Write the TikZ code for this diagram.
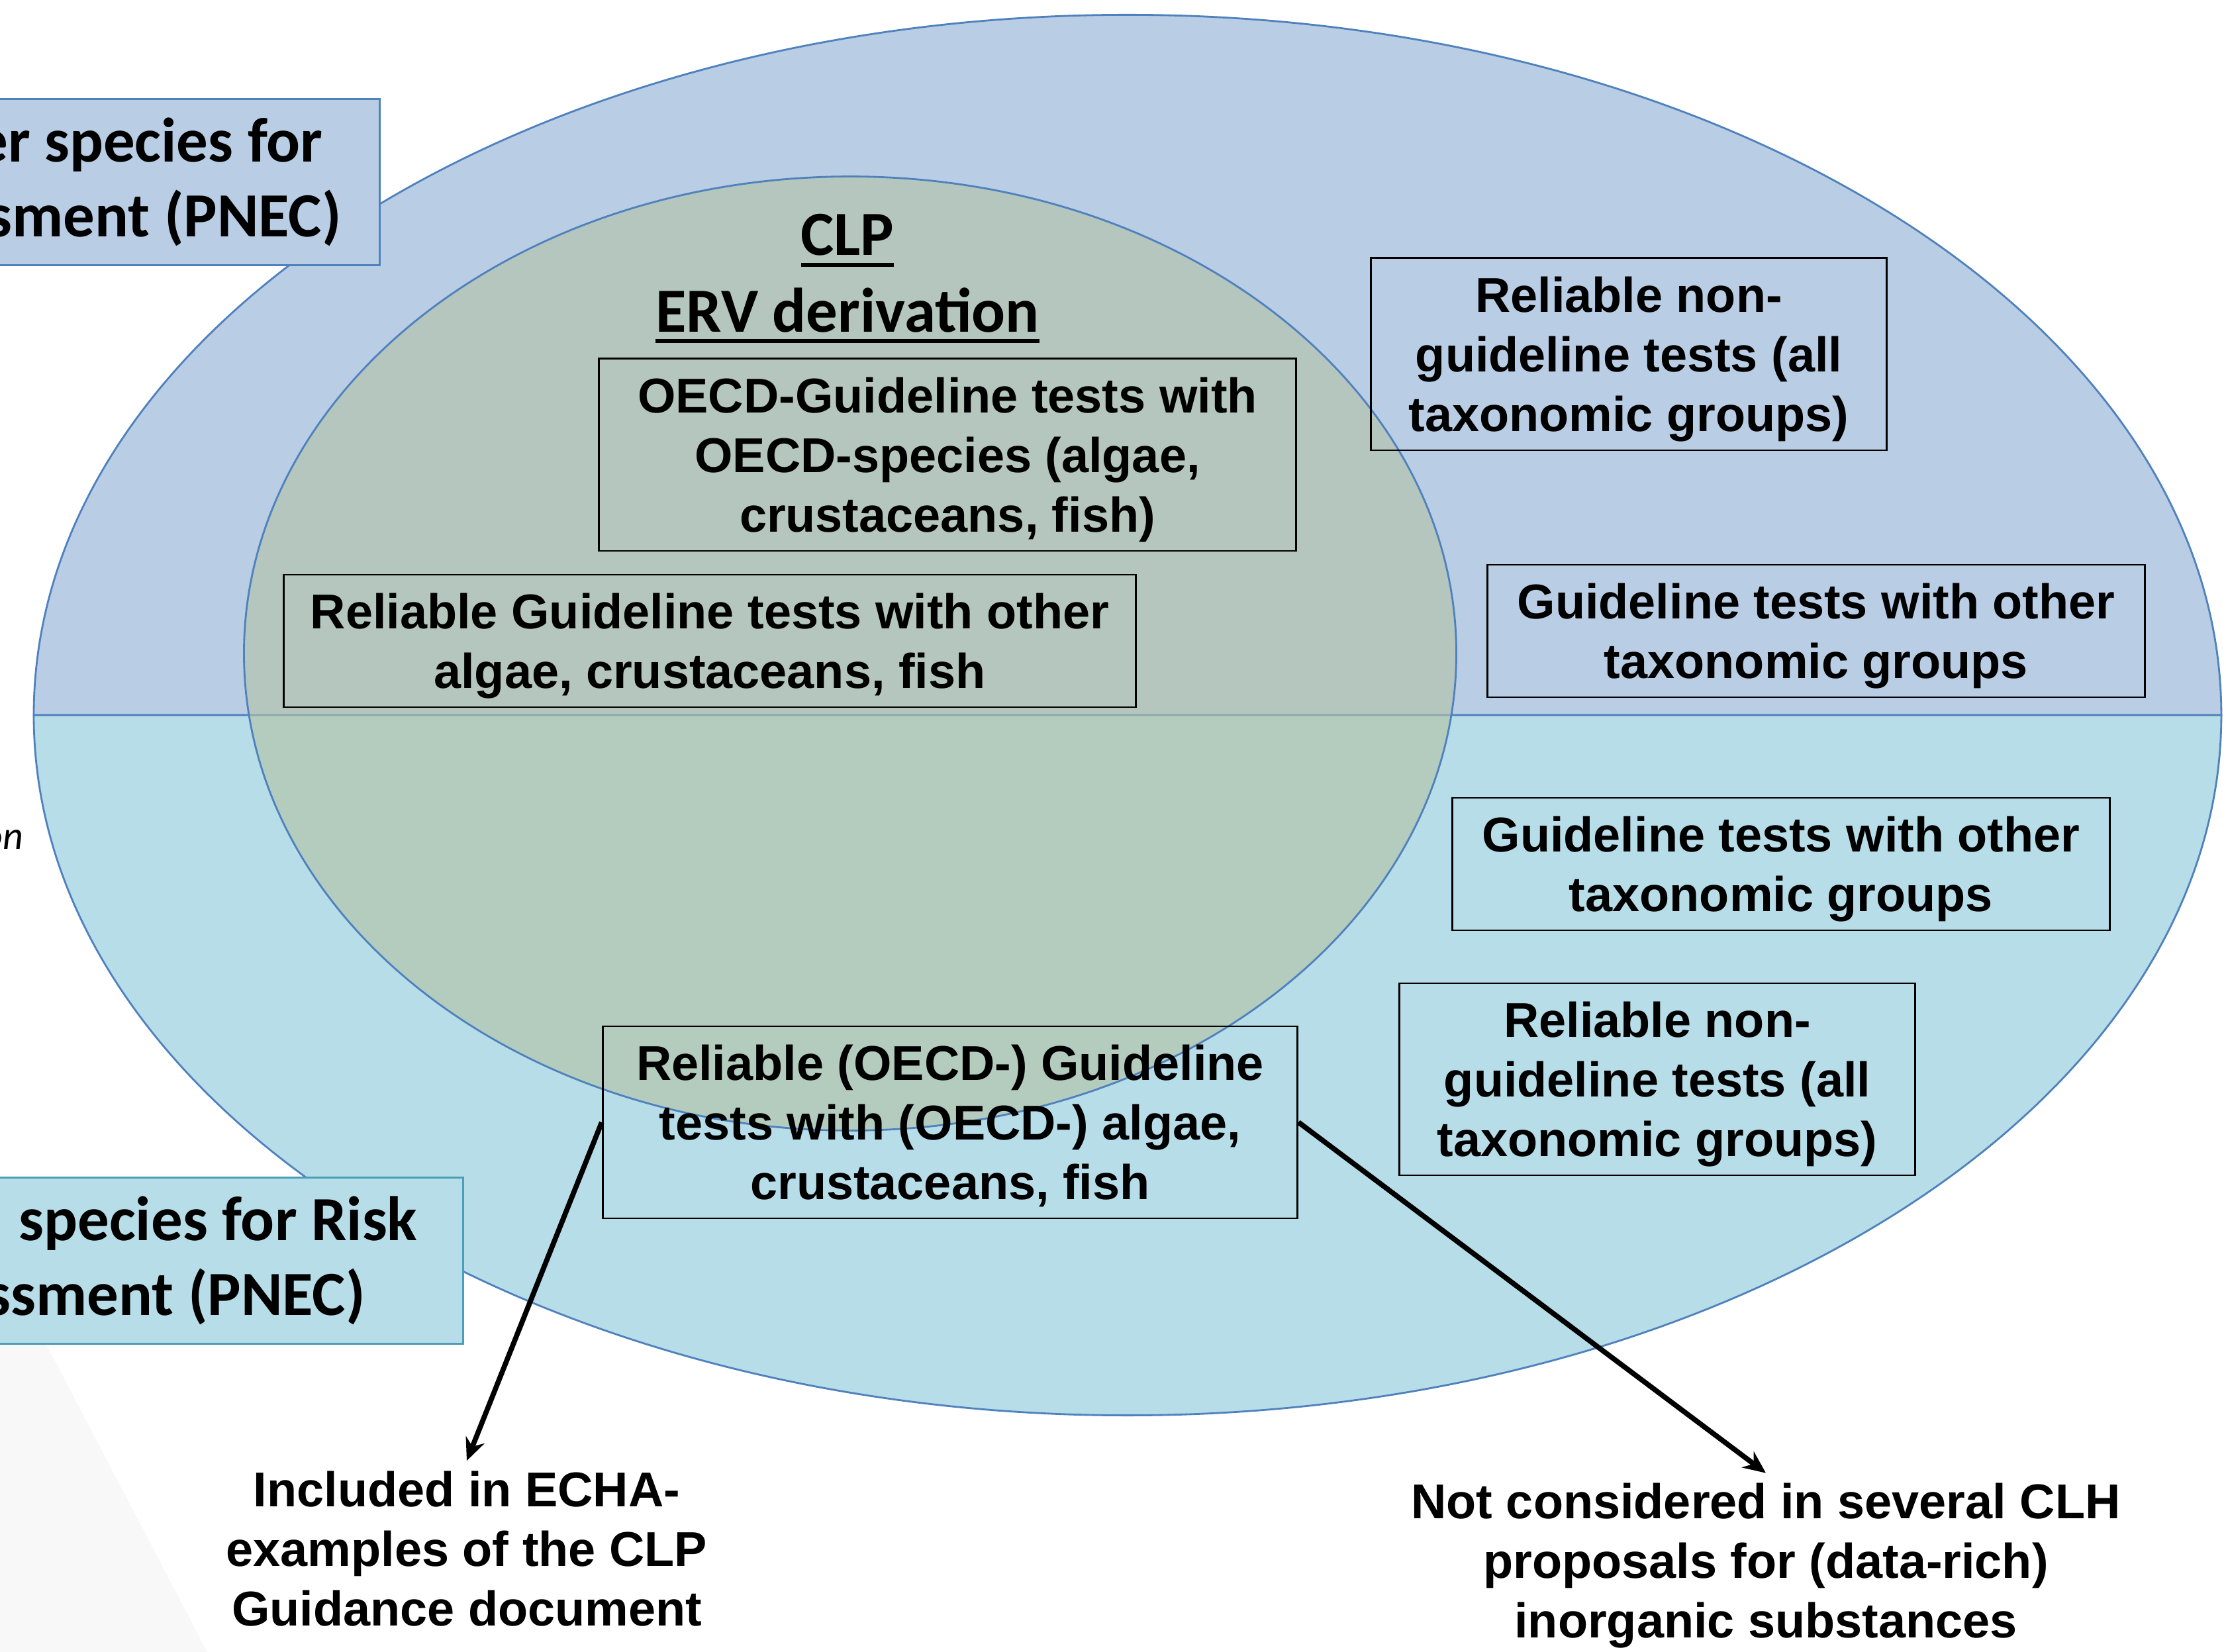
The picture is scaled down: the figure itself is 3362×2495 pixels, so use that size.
\documentclass[tikz,border=0pt]{standalone}
\usepackage{fontspec}
\usetikzlibrary{arrows.meta}
\newfontfamily\arialfont{Liberation Sans}
\newfontfamily\calfont{Carlito}
\definecolor{upperblue}{HTML}{B9CDE5}
\definecolor{lowercyan}{HTML}{B7DDE8}
\definecolor{rimblue}{HTML}{4F81BD}
\definecolor{rimteal}{HTML}{4A9EB6}
\definecolor{clpgreen}{HTML}{B2C2A5}
\definecolor{fadegray}{HTML}{F8F8F8}
\newsavebox{\ulword}
\newcommand{\thickul}[1]{\sbox{\ulword}{#1}\leavevmode\rlap{\rule[-4.8pt]{\wd\ulword}{1.7pt}}\usebox{\ulword}}

\begin{document}
\begin{tikzpicture}[x=0.01cm, y=-0.01cm,
    testbox/.style={draw, line width=0.8pt, inner sep=0pt, align=center, text depth=0pt,
      font=\arialfont\bfseries\fontsize{21}{25.6}\selectfont},
    sidebox/.style={draw=rimblue, line width=0.8pt, fill=upperblue, anchor=north east,
      minimum height=2.51cm, text width=7cm, align=flush right,
      font=\calfont\bfseries\fontsize{27}{32}\selectfont},
    note/.style={align=center, inner sep=0.15cm,
      font=\arialfont\bfseries\fontsize{21}{25.6}\selectfont},
    pointer/.style={-{Stealth[length=0.34cm, width=0.3cm]}, line width=2.2pt}]
  \useasboundingbox (0,0) rectangle (3362,2495);

  % faint background wedge
  \fill[fadegray] (-103,1700) -- (313,2495) -- (-103,2495) -- cycle;

  % outer ellipse, two halves
  \filldraw[fill=upperblue, draw=rimblue, line width=0.8pt] (51,1080)
    arc[start angle=180, end angle=0, x radius=16.51cm, y radius=10.57cm] -- cycle;
  \filldraw[fill=lowercyan, draw=rimblue, line width=0.8pt] (51,1080)
    arc[start angle=180, end angle=360, x radius=16.51cm, y radius=10.57cm] -- cycle;

  % inner CLP ellipse
  \filldraw[fill=clpgreen, fill opacity=0.62, draw=rimblue, line width=0.8pt]
    (1284,987) ellipse [x radius=9.15cm, y radius=7.2cm];

  % cut side labels
  \node[sidebox, inner xsep=0.58cm] (pnectop) at (575,148)
    {er species for\kern0.28cm\\sment (PNEC)};
  \node[sidebox, draw=rimteal, fill=lowercyan, inner xsep=0.69cm] (pneclow) at (701,1777)
    {species for Risk\\ssment (PNEC)\kern0.79cm};
  \node[anchor=base east, inner sep=0pt, font=\calfont\itshape\fontsize{17}{20}\selectfont]
    (onfrag) at (36,1283) {on};

  \node[font=\calfont\bfseries\fontsize{27}{32.9}\selectfont, align=center]
    (clptitle) at (1280,421) {\thickul{CLP}\\\thickul{ERV derivation}};

  % test boxes
  \node[testbox, minimum width=10.53cm, minimum height=2.9cm] (oecdtop) at (1431,687)
    {OECD-Guideline tests with\\OECD-species (algae,\\crustaceans, fish)};
  \node[testbox, minimum width=12.86cm, minimum height=2cm] (otheralgae) at (1072,968)
    {Reliable Guideline tests with other\\algae, crustaceans, fish};
  \node[testbox, minimum width=7.78cm, minimum height=2.9cm] (nonguidetop) at (2460,535)
    {Reliable non-\\guideline tests (all\\taxonomic groups)};
  \node[testbox, minimum width=9.93cm, minimum height=2cm] (taxatop) at (2743,953)
    {Guideline tests with other\\taxonomic groups};
  \node[testbox, minimum width=9.93cm, minimum height=2cm] (taxalow) at (2690,1305)
    {Guideline tests with other\\taxonomic groups};
  \node[testbox, minimum width=7.78cm, minimum height=2.9cm] (nonguidelow) at (2503,1630)
    {Reliable non-\\guideline tests (all\\taxonomic groups)};
  \node[testbox, minimum width=10.49cm, minimum height=2.9cm] (oecdlow) at (1435,1695)
    {Reliable (OECD-) Guideline\\tests with (OECD-) algae,\\crustaceans, fish};

  % notes below
  \node[note] (echa) at (705,2339) {Included in ECHA-\\examples of the CLP\\Guidance document};
  \node[note] (clh) at (2667,2365) {Not considered in several CLH\\proposals for (data-rich)\\inorganic substances};

  \draw[pointer] (oecdlow.west) -- (echa.north);
  \draw[pointer] (oecdlow.east) -- (clh.north);
\end{tikzpicture}
\end{document}
